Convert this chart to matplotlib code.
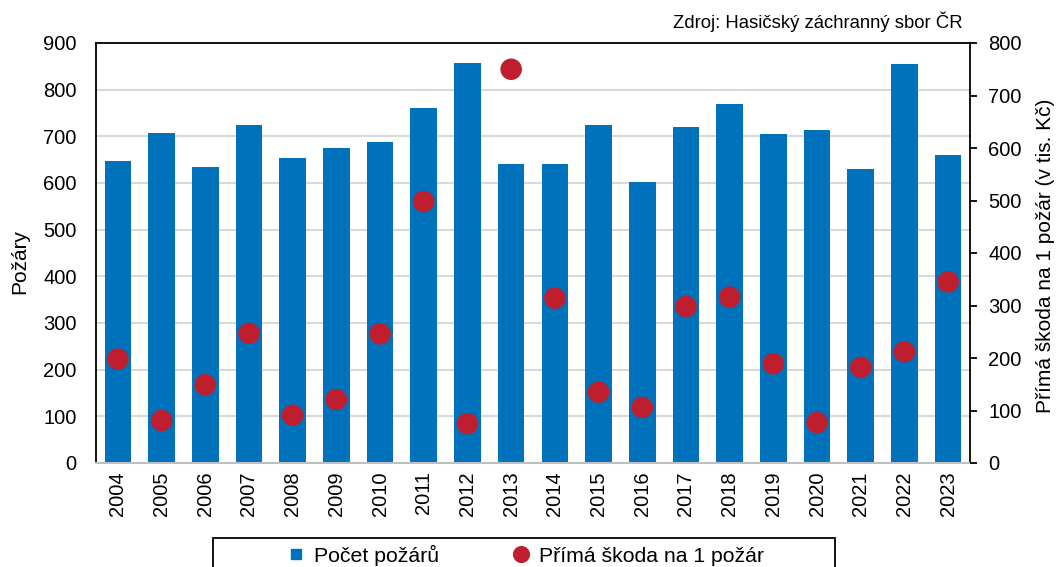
import matplotlib
matplotlib.use("Agg")
import matplotlib.pyplot as plt
from matplotlib.lines import Line2D
from matplotlib.patches import Rectangle
import numpy as np

plt.rcParams['font.family'] = ['Liberation Sans', 'DejaVu Sans']

years = ["2004", "2005", "2006", "2007", "2008", "2009", "2010", "2011", "2012", "2013",
         "2014", "2015", "2016", "2017", "2018", "2019", "2020", "2021", "2022", "2023"]
fires = [647, 708, 635, 724, 653, 674, 687, 760, 857, 641,
         641, 724, 603, 720, 770, 705, 713, 630, 856, 660]
damage = [198, 81, 149, 247, 91, 121, 246, 498, 75, 750,
          314, 135, 106, 298, 316, 189, 77, 182, 212, 345]
series_labels = ["Počet požárů", "Přímá škoda na 1 požár"]

bar_color = "#0072BB"
dot_color = "#BE1E2D"
W, H = 1056, 567

fig = plt.figure(figsize=(W/100, H/100), dpi=100)
ax = fig.add_axes([96/W, 1-463/H, (970-96)/W, (463-43)/H])
x = np.arange(len(years))
ax.bar(x, fires, width=0.61, color=bar_color, zorder=2)
ax.set_ylim(0, 900)
ax.set_yticks(range(0, 901, 100))
ax.set_xlim(-0.5, len(years) - 0.5)
ax.set_xticks(x)
ax.set_xticklabels(years, rotation=90, fontsize=14.5)
ax.tick_params(axis='x', length=0, pad=6)
ax.tick_params(axis='y', length=0, pad=14, labelsize=14.5)
ax.yaxis.grid(True, color="#D9D9D9", linewidth=1.5, zorder=0)
ax.set_axisbelow(True)
for s in ["left", "top", "right"]:
    ax.spines[s].set_color("black")
    ax.spines[s].set_linewidth(1.3)
ax.spines["bottom"].set_color("#BFBFBF")
ax.spines["bottom"].set_linewidth(1.5)
ax.set_ylabel("Požáry", fontsize=15)
ax.yaxis.set_label_coords(-0.076, 0.48)

ax2 = ax.twinx()
ax2.scatter(x, damage, s=240, color=dot_color, zorder=3, edgecolors='none')
ax2.set_ylim(0, 800)
ax2.set_yticks(range(0, 801, 100))
ax2.tick_params(axis='y', length=5, width=1.3, direction='out', labelsize=14.5, pad=8)
for s in ["left", "top", "right", "bottom"]:
    ax2.spines[s].set_visible(False)
ax2.set_ylabel("Přímá škoda na 1 požár (v tis. Kč)", fontsize=15)
ax2.yaxis.set_label_coords(1.076, 0.494)

fig.text(963/W, 1-28.5/H, "Zdroj: Hasičský záchranný sbor ČR", ha='right', va='baseline', fontsize=13.3)

# legend
handles = [Line2D([], [], linestyle='none', marker='s', markersize=7.3, color=bar_color),
           Line2D([], [], linestyle='none', marker='o', markersize=12.3, color=dot_color, markeredgewidth=0)]
leg = fig.legend(handles, series_labels, loc='center left', bbox_to_anchor=(287/W, 1-555/H),
                 ncol=2, fontsize=15.3, frameon=False, borderpad=0, borderaxespad=0,
                 handlelength=0.8, handletextpad=0.46, columnspacing=3.46)
fig.patches.append(Rectangle((212.5/W, 1-600/H), (835-212.5)/W, (600-538)/H,
                             transform=fig.transFigure, fill=False, edgecolor='black',
                             linewidth=1.3, figure=fig))

fig.savefig("out.png", dpi=100)
